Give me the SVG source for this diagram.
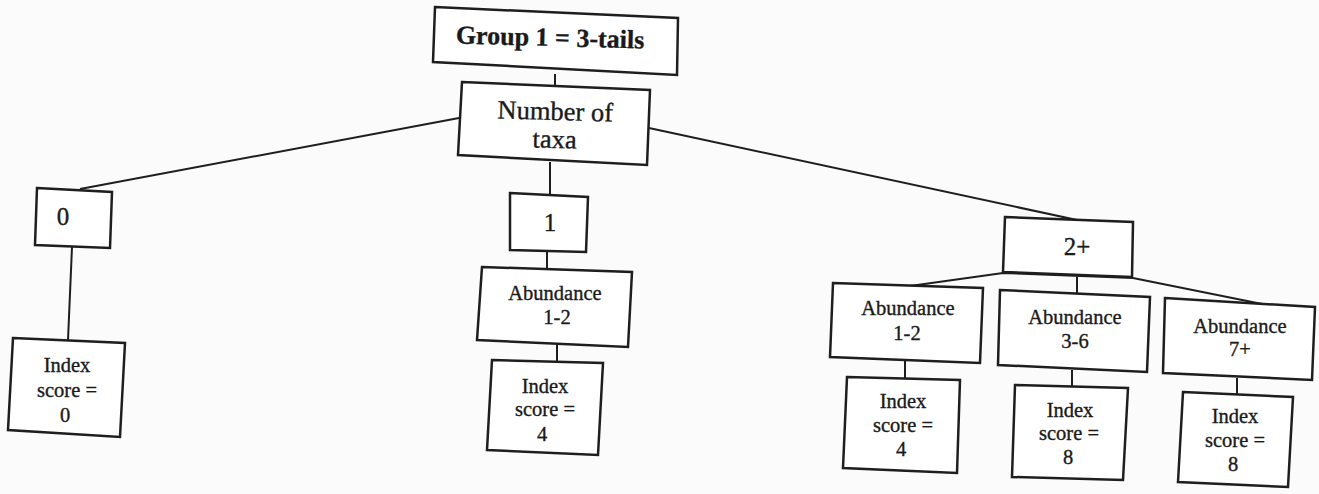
<svg xmlns="http://www.w3.org/2000/svg" width="1319" height="494" viewBox="0 0 1319 494">
  <style>
    .box { fill: #ffffff; stroke: #1e1e1e; stroke-width: 2.5; stroke-linejoin: miter; }
    .link { fill: none; stroke: #1e1e1e; stroke-width: 2; }
    text { font-family: "Liberation Serif", "Times New Roman", serif; fill: #1a1a1a; stroke: #1a1a1a; stroke-width: 0.35; text-anchor: middle; }
    .title { font-size: 26px; font-weight: bold; }
    .big { font-size: 26.5px; }
    .num { font-size: 25px; }
    .small { font-size: 20.5px; }
  </style>
  <rect width="1319" height="494" fill="#fbfbfb"/>

  <!-- tree connectors -->
  <g id="connectors">
    <line class="link" x1="555" y1="74" x2="555" y2="85"/>
    <line class="link" x1="459" y1="118" x2="80" y2="189"/>
    <line class="link" x1="550" y1="162" x2="550" y2="195"/>
    <line class="link" x1="649" y1="128" x2="1077" y2="220"/>
    <line class="link" x1="72" y1="247" x2="68" y2="340"/>
    <line class="link" x1="547" y1="251" x2="547" y2="268"/>
    <line class="link" x1="557" y1="345" x2="557" y2="361"/>
    <polyline class="link" points="910,286 1003,273 1133,278 1262,304"/>
    <line class="link" x1="1077" y1="277" x2="1077" y2="293"/>
    <line class="link" x1="905" y1="361" x2="905" y2="378"/>
    <line class="link" x1="1072" y1="370" x2="1072" y2="386"/>
    <line class="link" x1="1237" y1="378" x2="1237" y2="394"/>
  </g>

  <g id="group1">
    <polygon class="box" points="435,7 678,18 677,75 433,62"/>
    <text class="title" x="550" y="46" transform="rotate(1.5 550 40)">Group 1 = 3-tails</text>
  </g>

  <g id="number-of-taxa">
    <polygon class="box" points="462,82 650,90 647,165 458,155"/>
    <text class="big" x="555" y="120" transform="rotate(1.5 555 125)">Number of</text>
    <text class="big" x="555" y="148" transform="rotate(1.5 555 125)">taxa</text>
  </g>

  <g id="taxa-0">
    <polygon class="box" points="37,188 112,192 110,248 35,245"/>
    <text class="num" x="63" y="225">0</text>
  </g>
  <g id="score-0">
    <polygon class="box" points="13,338 125,343 120,437 8,430"/>
    <text class="small" x="67" y="372">Index</text>
    <text class="small" x="67" y="397">score =</text>
    <text class="small" x="65" y="422">0</text>
  </g>

  <g id="taxa-1">
    <polygon class="box" points="510,193 588,197 586,252 510,250"/>
    <text class="num" x="550" y="231">1</text>
  </g>
  <g id="abund-1-2-a">
    <polygon class="box" points="482,267 632,272 628,347 477,340"/>
    <text class="small" x="555" y="300">Abundance</text>
    <text class="small" x="557" y="324">1-2</text>
  </g>
  <g id="score-4-a">
    <polygon class="box" points="492,360 603,363 598,455 487,450"/>
    <text class="small" x="545" y="393">Index</text>
    <text class="small" x="545" y="416">score =</text>
    <text class="small" x="542" y="441">4</text>
  </g>

  <g id="taxa-2plus">
    <polygon class="box" points="1005,217 1133,222 1132,277 1003,272"/>
    <text class="num" x="1077" y="255">2+</text>
  </g>
  <g id="abund-1-2-b">
    <polygon class="box" points="833,283 983,288 980,363 830,357"/>
    <text class="small" x="908" y="315">Abundance</text>
    <text class="small" x="907" y="340">1-2</text>
  </g>
  <g id="score-4-b">
    <polygon class="box" points="847,377 960,380 957,473 843,468"/>
    <text class="small" x="903" y="408">Index</text>
    <text class="small" x="903" y="432">score =</text>
    <text class="small" x="901" y="456">4</text>
  </g>
  <g id="abund-3-6">
    <polygon class="box" points="1000,290 1150,297 1147,372 998,365"/>
    <text class="small" x="1075" y="324">Abundance</text>
    <text class="small" x="1075" y="348">3-6</text>
  </g>
  <g id="score-8-a">
    <polygon class="box" points="1015,385 1128,388 1123,480 1012,477"/>
    <text class="small" x="1070" y="417">Index</text>
    <text class="small" x="1069" y="440">score =</text>
    <text class="small" x="1068" y="464">8</text>
  </g>
  <g id="abund-7plus">
    <polygon class="box" points="1165,298 1315,307 1312,380 1163,373"/>
    <text class="small" x="1240" y="333">Abundance</text>
    <text class="small" x="1240" y="356">7+</text>
  </g>
  <g id="score-8-b">
    <polygon class="box" points="1183,392 1293,397 1288,487 1178,482"/>
    <text class="small" x="1235" y="423">Index</text>
    <text class="small" x="1235" y="447">score =</text>
    <text class="small" x="1233" y="471">8</text>
  </g>
</svg>
